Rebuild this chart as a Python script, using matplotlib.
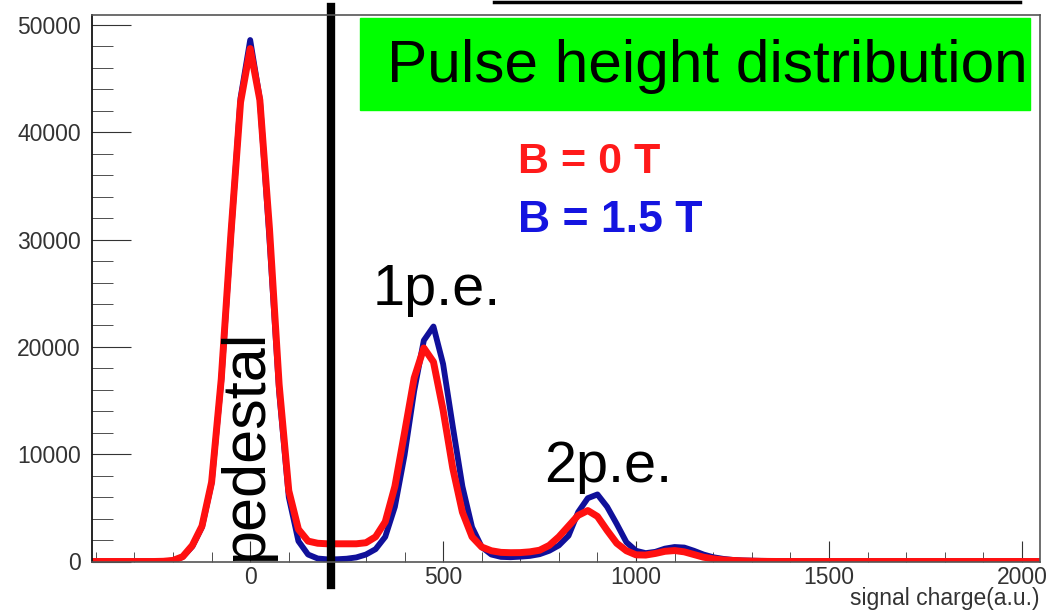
import numpy as np
import matplotlib.pyplot as plt
from matplotlib.patches import Rectangle
from matplotlib.lines import Line2D

plt.rcParams['font.family'] = ['Liberation Sans', 'DejaVu Sans']

# bin centers of the histogram (25 a.u. steps)
carga = np.arange(-400, 2075, 25)

# B = 0 T, counts for bins -250 ... 1425
cuentas_0T = [0, 20, 100, 450, 1500, 3300, 7400, 17000, 30500, 42800,
              47800, 43000, 31000, 16500, 6600, 3000, 1900, 1700, 1650, 1650,
              1650, 1650, 1750, 2300, 3700, 7000, 12000, 17100, 19900, 18600,
              14100, 8700, 4600, 2300, 1350, 1000, 850, 820, 830, 900,
              1050, 1500, 2300, 3300, 4300, 4750, 4200, 2900, 1700, 1000,
              620, 600, 750, 950, 1020, 900, 650, 400, 250, 150,
              100, 60, 30, 15, 5, 0, 0, 0]

# B = 1.5 T
cuentas_15T = [0, 20, 90, 420, 1400, 3200, 7300, 16800, 30300, 43200,
               48600, 43100, 30000, 15800, 6000, 1900, 650, 280, 200, 210,
               260, 380, 650, 1150, 2300, 5100, 9900, 15900, 20600, 21900,
               18400, 12600, 7000, 3200, 1350, 650, 430, 400, 450, 520,
               680, 1000, 1500, 2400, 4600, 5900, 6250, 5100, 3500, 1800,
               1000, 780, 900, 1200, 1350, 1300, 1000, 650, 400, 250,
               150, 100, 80, 60, 50, 40, 30, 0]

# zero bins outside the measured range
ceros_izq = [0] * 6
ceros_der = [0] * 25
rojo = np.array(ceros_izq + cuentas_0T + ceros_der)
azul = np.array(ceros_izq + cuentas_15T + ceros_der)

fig = plt.figure(figsize=(10.49, 6.10), dpi=100)
ax = fig.add_axes([92 / 1049, 1 - 561.5 / 610, (1040 - 92) / 1049, (561.5 - 15) / 610])

ax.plot(carga, azul, color='#10109a', lw=4.2, solid_joinstyle='round')
ax.plot(carga, rojo, color='#ff1010', lw=5, solid_joinstyle='round')

ax.set_xlim(-410, 2047)
ax.set_ylim(0, 50930)

# ticks estilo ROOT
ax.set_xticks([0, 500, 1000, 1500, 2000])
ax.set_xticks(np.arange(-400, 2047, 100), minor=True)
ax.set_yticks([0, 10000, 20000, 30000, 40000, 50000])
ax.set_yticks(np.arange(0, 50930, 2000), minor=True)
ax.tick_params(axis='both', which='both', direction='in', colors='#333333',
               labelsize=16.5, top=False, right=False)
ax.tick_params(axis='y', which='major', length=28, pad=8)
ax.tick_params(axis='y', which='minor', length=15)
ax.tick_params(axis='x', which='major', length=15, pad=3)
ax.tick_params(axis='x', which='minor', length=7)
for s in ax.spines.values():
    s.set_color('#555555')
    s.set_linewidth(1.2)
ax.spines['left'].set_color('black')

# título del eje x, abajo a la derecha
fig.text(1040 / 1049, 1 - 605 / 610, 'signal charge(a.u.)', fontsize=16.5,
         color='#333333', ha='right', va='baseline')

# línea de corte
ax.axvline(210, ymin=-0.043, ymax=1.015, color='black', lw=6, clip_on=False)

# textos
ax.text(-10, 10870, 'pedestal', rotation=90, fontsize=44, ha='center', va='center')
ax.text(484, 23900, '1p.e.', fontsize=41.5, ha='center', va='baseline')
ax.text(929, 7420, '2p.e.', fontsize=41.5, ha='center', va='baseline')
ax.text(694, 36240, 'B = 0 T', fontsize=31, fontweight='bold', color='#ff1a1a', va='baseline')
ax.text(694, 30740, 'B = 1.5 T', fontsize=32, fontweight='bold', color='#1414e0', va='baseline')

# recuadro verde del título
fig.add_artist(Rectangle((360 / 1049, 1 - 110 / 610), 670 / 1049, 92 / 610,
                         transform=fig.transFigure, color='#00ff00', zorder=5))
fig.text(707 / 1049, 1 - 66 / 610, 'Pulse height distribution', fontsize=43.5,
         ha='center', va='center', zorder=6)
fig.add_artist(Line2D([494 / 1049, 1020 / 1049], [1 - 1.5 / 610] * 2,
                      transform=fig.transFigure, color='black', lw=2.5))

fig.savefig('out.png', dpi=100)
